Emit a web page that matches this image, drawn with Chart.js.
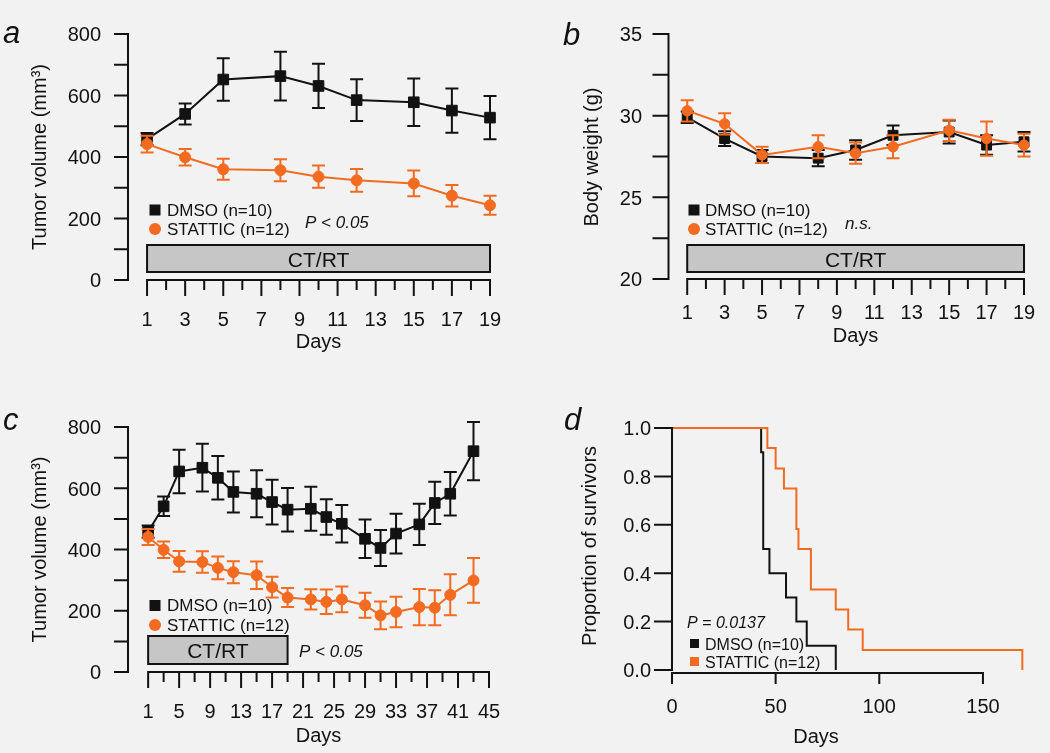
<!DOCTYPE html>
<html>
<head>
<meta charset="utf-8">
<script src="https://cdn.jsdelivr.net/npm/chart.js@4.4.1/dist/chart.umd.min.js"></script>
<style>
html,body{margin:0;padding:0;background:#f2f2f2;}
#wrap{position:relative;width:1050px;height:753px;overflow:hidden;background:#f2f2f2;}
#wrap canvas{position:absolute;left:0;top:0;}
</style>
</head>
<body>
<div id="wrap">
<canvas id="pa" width="1050" height="753"></canvas>
<canvas id="pb" width="1050" height="753"></canvas>
<canvas id="pc" width="1050" height="753"></canvas>
<canvas id="pd" width="1050" height="753"></canvas>
</div>
<script>
// ---------------- DATA ----------------
// Panel a / b: days of measurement
const daysAB = [1, 3, 5, 8, 10, 12, 15, 17, 19];
// Panel a: tumor volume (mm3), mean and error
const tumorDmsoA = [458, 540, 652, 663, 631, 585, 578, 551, 528];
const tumorDmsoErrA = [20, 34, 69, 79, 72, 68, 77, 72, 70];
const tumorStatticA = [442, 399, 360, 357, 336, 324, 314, 274, 243];
const tumorStatticErrA = [27, 27, 34, 36, 36, 37, 42, 35, 31];
// Panel b: body weight (g)
const weightDmso = [29.9, 28.6, 27.5, 27.4, 27.9, 28.8, 29.0, 28.2, 28.4];
const weightDmsoErr = [0.35, 0.45, 0.4, 0.5, 0.6, 0.6, 0.7, 0.6, 0.6];
const weightStattic = [30.3, 29.5, 27.6, 28.1, 27.7, 28.1, 29.1, 28.6, 28.2];
const weightStatticErr = [0.65, 0.65, 0.5, 0.7, 0.65, 0.7, 0.65, 1.05, 0.7];
// Panel c: longer follow-up
const daysC = [1, 3, 5, 8, 10, 12, 15, 17, 19, 22, 24, 26, 29, 31, 33, 36, 38, 40, 43];
const tumorDmsoC = [458, 541, 655, 667, 634, 588, 582, 555, 530, 533, 506, 484, 435, 405, 452, 482, 552, 582, 721];
const tumorDmsoErrC = [20, 32, 71, 78, 71, 67, 77, 73, 71, 72, 58, 61, 63, 59, 65, 67, 69, 71, 95];
const tumorStatticC = [441, 399, 361, 359, 340, 326, 316, 277, 243, 237, 229, 237, 218, 185, 196, 212, 210, 252, 299];
const tumorStatticErrC = [26, 27, 34, 35, 37, 36, 45, 34, 31, 33, 40, 42, 41, 45, 50, 59, 57, 67, 73];
// Panel d: Kaplan-Meier survival
const survDmsoDays = [0, 43, 44, 47, 55, 60, 65, 79];
const survDmso = [1, 0.9, 0.5, 0.4, 0.3, 0.2, 0.1, 0];
const survStatticDays = [0, 46, 50, 54, 60, 61, 67, 79, 85, 92, 169];
const survStattic = [1, 0.917, 0.833, 0.75, 0.583, 0.5, 0.333, 0.25, 0.167, 0.083, 0];

// Tick values / labels
const tumorYTicks = [0, 100, 200, 300, 400, 500, 600, 700, 800];
const tumorYLabels = [0, 200, 400, 600, 800];
const weightYTicks = [20, 22.5, 25, 27.5, 30, 32.5, 35];
const weightYLabels = [20, 25, 30, 35];
const dayTicksAB = [1, 2, 3, 4, 5, 6, 7, 8, 9, 10, 11, 12, 13, 14, 15, 16, 17, 18, 19];
const dayLabelsAB = [1, 3, 5, 7, 9, 11, 13, 15, 17, 19];
const dayTicksC = [1, 3, 5, 7, 9, 11, 13, 15, 17, 19, 21, 23, 25, 27, 29, 31, 33, 35, 37, 39, 41, 43, 45];
const dayLabelsC = [1, 5, 9, 13, 17, 21, 25, 29, 33, 37, 41, 45];
const survYTicks = [0, 0.2, 0.4, 0.6, 0.8, 1.0];
const survXTicks = [0, 50, 100, 150];

// ---------------- STYLE ----------------
const FONT = '"Liberation Sans", Arial, Helvetica, sans-serif';
const ORANGE = '#f26b21';
const BLACK = '#121212';
const W = 1050, H = 753;

function pts(xs, ys) { return xs.map((x, i) => ({x: x, y: ys[i]})); }

const errorBarPlugin = {
  id: 'errbars',
  beforeDatasetDraw(chart, args) {
    const ds = chart.data.datasets[args.index];
    if (!ds.err) return;
    const xs = chart.scales.x, ys = chart.scales.y, ctx = chart.ctx;
    const cap = ds.capHalf || 6;
    ctx.save();
    ctx.strokeStyle = ds.borderColor;
    ctx.lineWidth = 2;
    ds.data.forEach((p, i) => {
      const e = ds.err[i];
      const x = xs.getPixelForValue(p.x);
      const y1 = ys.getPixelForValue(p.y + e), y2 = ys.getPixelForValue(p.y - e);
      ctx.beginPath();
      ctx.moveTo(x, y1); ctx.lineTo(x, y2);
      ctx.moveTo(x - cap, y1); ctx.lineTo(x + cap, y1);
      ctx.moveTo(x - cap, y2); ctx.lineTo(x + cap, y2);
      ctx.stroke();
    });
    ctx.restore();
  }
};

function setFont(ctx, size, italic) {
  ctx.font = (italic ? 'italic ' : '') + size + 'px ' + FONT;
}
function txt(ctx, s, x, y, size, align, italic) {
  setFont(ctx, size, italic);
  ctx.textAlign = align || 'left';
  ctx.textBaseline = 'alphabetic';
  ctx.fillStyle = BLACK;
  ctx.fillText(s, x, y);
}

function decoPlugin(d) {
  return {
    id: 'deco',
    beforeDatasetsDraw(chart) {
      const ctx = chart.ctx, xs = chart.scales.x;
      if (d.box) {
        const b = d.box;
        const x0 = xs.getPixelForValue(b.from), x1 = xs.getPixelForValue(b.to);
        ctx.save();
        ctx.fillStyle = '#c6c6c6';
        ctx.strokeStyle = BLACK;
        ctx.lineWidth = 2;
        ctx.fillRect(x0, b.top, x1 - x0, b.bottom - b.top);
        ctx.strokeRect(x0, b.top, x1 - x0, b.bottom - b.top);
        txt(ctx, b.text, (x0 + x1) / 2, b.base, 21, 'center');
        ctx.restore();
      }
    },
    afterDraw(chart) {
      const ctx = chart.ctx, xs = chart.scales.x, ys = chart.scales.y;
      const area = chart.chartArea;
      ctx.save();
      ctx.strokeStyle = BLACK;
      ctx.lineWidth = 2;
      ctx.lineCap = 'square';
      // Y axis
      const ya = d.yAxis;
      const ax = area.left;
      ctx.beginPath();
      ctx.moveTo(ax, ys.getPixelForValue(ys.min));
      ctx.lineTo(ax, ys.getPixelForValue(ys.max));
      ya.ticks.forEach(v => {
        const y = ys.getPixelForValue(v);
        ctx.moveTo(ax, y); ctx.lineTo(ax - ya.len, y);
      });
      ctx.stroke();
      ya.labels.forEach(v => {
        const y = ys.getPixelForValue(v);
        txt(ctx, ya.fmt ? ya.fmt(v) : String(v), ya.labelX, y + 7.3, 20, 'right');
      });
      // X axis
      const xa = d.xAxis;
      ctx.beginPath();
      ctx.moveTo(xs.getPixelForValue(xa.from), xa.y);
      ctx.lineTo(xs.getPixelForValue(xa.to), xa.y);
      xa.ticks.forEach(v => {
        const x = xs.getPixelForValue(v);
        const long = xa.labels.indexOf(v) >= 0;
        ctx.moveTo(x, xa.y); ctx.lineTo(x, xa.y + (long ? xa.long : xa.short));
      });
      ctx.stroke();
      xa.labels.forEach(v => {
        txt(ctx, String(v), xs.getPixelForValue(v), xa.labelBase, 20, 'center');
      });
      // titles
      txt(ctx, 'Days', d.xTitle.x, d.xTitle.base, 20, 'center');
      ctx.save();
      ctx.translate(d.yTitle.x, d.yTitle.cy);
      ctx.rotate(-Math.PI / 2);
      txt(ctx, d.yTitle.text, 0, 0, 20, 'center');
      ctx.restore();
      // panel letter
      txt(ctx, d.letter.text, d.letter.x, d.letter.y, 31, 'left', true);
      // legend
      d.legend.forEach(it => {
        ctx.fillStyle = it.color;
        if (it.shape === 'rect') {
          ctx.fillRect(it.cx - it.size / 2, it.cy - it.size / 2, it.size, it.size);
        } else {
          ctx.beginPath();
          ctx.arc(it.cx, it.cy, it.size / 2, 0, Math.PI * 2);
          ctx.fill();
        }
        txt(ctx, it.text, it.tx, it.base, it.font, 'left');
      });
      d.notes.forEach(n => txt(ctx, n.text, n.x, n.base, n.font, 'left', true));
      ctx.restore();
    }
  };
}

function makePanel(id, area, xr, yr, datasets, deco) {
  return new Chart(document.getElementById(id), {
    type: 'line',
    data: {datasets: datasets},
    options: {
      responsive: false,
      animation: false,
      events: [],
      layout: {padding: {left: area.l, top: area.t, right: W - area.r, bottom: H - area.b}},
      plugins: {legend: {display: false}, tooltip: {enabled: false}},
      scales: {
        x: {type: 'linear', display: false, min: xr[0], max: xr[1]},
        y: {type: 'linear', display: false, min: yr[0], max: yr[1]}
      }
    },
    plugins: [errorBarPlugin, decoPlugin(deco)]
  });
}

function seriesDs(xs, ys, err, color, shape, r, order) {
  return {
    data: pts(xs, ys), err: err,
    borderColor: color, backgroundColor: color,
    borderWidth: 2, pointStyle: shape, pointRadius: r,
    pointBorderWidth: 1, pointBorderColor: color, pointBackgroundColor: color,
    tension: 0, clip: false, order: order, capHalf: 6.5
  };
}

// ---- Panel a
makePanel('pa', {l: 128, t: 34, r: 490, b: 280}, [0, 19], [0, 800], [
  seriesDs(daysAB, tumorDmsoA, tumorDmsoErrA, BLACK, 'rect', 7.5, 1),
  seriesDs(daysAB, tumorStatticA, tumorStatticErrA, ORANGE, 'circle', 5.5, 0)
], {
  yAxis: {ticks: tumorYTicks, labels: tumorYLabels, len: 13, labelX: 101},
  xAxis: {y: 280, from: 1, to: 19, ticks: dayTicksAB, labels: dayLabelsAB, long: 15, short: 9, labelBase: 326},
  xTitle: {x: 318.5, base: 348},
  yTitle: {text: 'Tumor volume (mm\u00B3)', x: 46, cy: 157},
  letter: {text: 'a', x: 3, y: 43},
  legend: [
    {shape: 'rect', color: BLACK, cx: 155, cy: 210, size: 11, text: 'DMSO (n=10)', tx: 167, base: 216, font: 17},
    {shape: 'circle', color: ORANGE, cx: 155, cy: 229, size: 12, text: 'STATTIC (n=12)', tx: 167, base: 235, font: 17}
  ],
  notes: [{text: 'P < 0.05', x: 305, base: 228, font: 17}],
  box: {from: 1, to: 19, top: 245, bottom: 272, text: 'CT/RT', base: 267}
});

// ---- Panel b
makePanel('pb', {l: 668.5, t: 34, r: 1024, b: 279}, [0, 19], [20, 35], [
  seriesDs(daysAB, weightDmso, weightDmsoErr, BLACK, 'rect', 7, 1),
  seriesDs(daysAB, weightStattic, weightStatticErr, ORANGE, 'circle', 5.2, 0)
], {
  yAxis: {ticks: weightYTicks, labels: weightYLabels, len: 15, labelX: 642},
  xAxis: {y: 279, from: 1, to: 19, ticks: dayTicksAB, labels: dayLabelsAB, long: 15, short: 9, labelBase: 319},
  xTitle: {x: 855.5, base: 342},
  yTitle: {text: 'Body weight (g)', x: 598, cy: 157},
  letter: {text: 'b', x: 563, y: 45},
  legend: [
    {shape: 'rect', color: BLACK, cx: 694, cy: 210, size: 11, text: 'DMSO (n=10)', tx: 705, base: 216, font: 17},
    {shape: 'circle', color: ORANGE, cx: 694, cy: 229, size: 12, text: 'STATTIC (n=12)', tx: 705, base: 235, font: 17}
  ],
  notes: [{text: 'n.s.', x: 845, base: 229, font: 17}],
  box: {from: 1, to: 19, top: 245, bottom: 272, text: 'CT/RT', base: 267}
});

// ---- Panel c
makePanel('pc', {l: 128, t: 427, r: 489, b: 672}, [-1.6, 45], [0, 800], [
  seriesDs(daysC, tumorDmsoC, tumorDmsoErrC, BLACK, 'rect', 7.5, 1),
  seriesDs(daysC, tumorStatticC, tumorStatticErrC, ORANGE, 'circle', 5.5, 0)
], {
  yAxis: {ticks: tumorYTicks, labels: tumorYLabels, len: 13, labelX: 101},
  xAxis: {y: 672, from: 1, to: 45, ticks: dayTicksC, labels: dayLabelsC, long: 15, short: 9, labelBase: 718},
  xTitle: {x: 318.5, base: 742},
  yTitle: {text: 'Tumor volume (mm\u00B3)', x: 46, cy: 549.5},
  letter: {text: 'c', x: 3, y: 430},
  legend: [
    {shape: 'rect', color: BLACK, cx: 155, cy: 605.5, size: 11, text: 'DMSO (n=10)', tx: 167, base: 611, font: 17},
    {shape: 'circle', color: ORANGE, cx: 155, cy: 625, size: 12, text: 'STATTIC (n=12)', tx: 167, base: 631, font: 17}
  ],
  notes: [{text: 'P < 0.05', x: 299, base: 657, font: 17}],
  box: {from: 1, to: 19, top: 636, bottom: 664, text: 'CT/RT', base: 658}
});

// ---- Panel d
makePanel('pd', {l: 672, t: 428, r: 1024.4, b: 670}, [0, 170], [0, 1], [
  {data: pts(survDmsoDays, survDmso), borderColor: BLACK, borderWidth: 2, pointRadius: 0, stepped: 'before', clip: false, order: 1},
  {data: pts(survStatticDays, survStattic), borderColor: ORANGE, borderWidth: 2, pointRadius: 0, stepped: 'before', clip: false, order: 0}
], {
  yAxis: {ticks: survYTicks, labels: survYTicks, len: 17, labelX: 651, fmt: v => v.toFixed(1)},
  xAxis: {y: 673, from: 0, to: 150, ticks: survXTicks, labels: survXTicks, long: 10, short: 10, labelBase: 713},
  xTitle: {x: 816, base: 743},
  yTitle: {text: 'Proportion of survivors', x: 596, cy: 546},
  letter: {text: 'd', x: 564, y: 430},
  legend: [
    {shape: 'rect', color: BLACK, cx: 694.5, cy: 643.5, size: 9, text: 'DMSO (n=10)', tx: 705, base: 650, font: 16},
    {shape: 'rect', color: ORANGE, cx: 694.5, cy: 661.5, size: 9, text: 'STATTIC (n=12)', tx: 705, base: 668, font: 16}
  ],
  notes: [{text: 'P = 0.0137', x: 687, base: 628, font: 16}]
});
</script>
</body>
</html>
